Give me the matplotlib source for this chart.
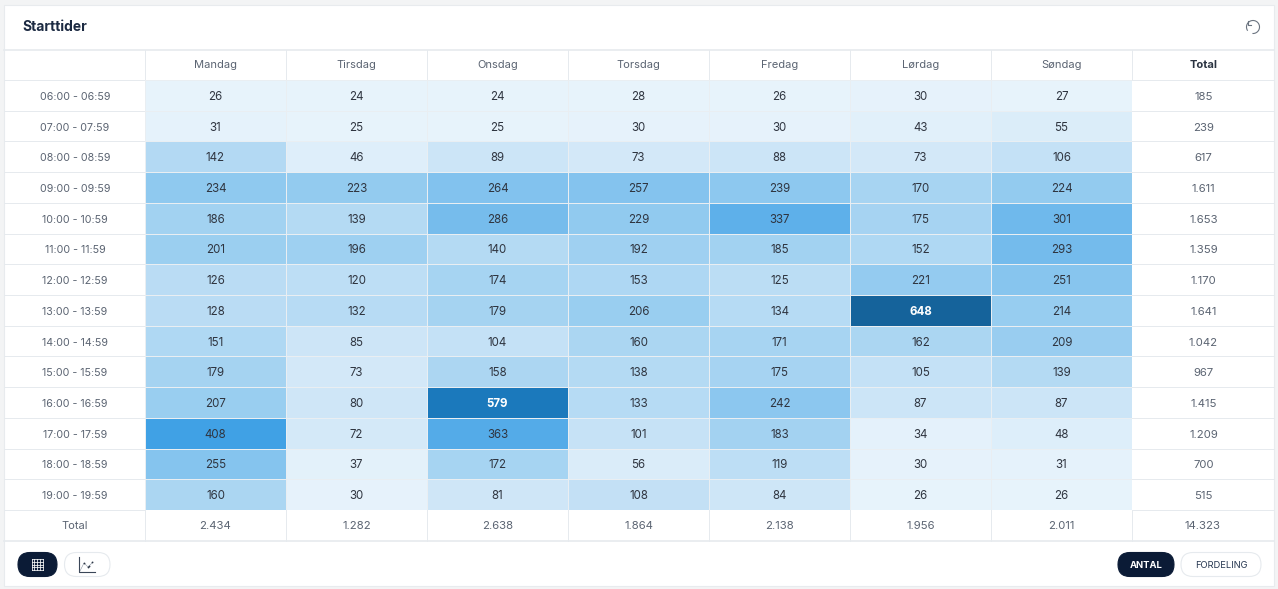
import numpy as np
import matplotlib
matplotlib.use("Agg")
import matplotlib.pyplot as plt
from matplotlib.colors import LinearSegmentedColormap, Normalize
from matplotlib.patches import FancyBboxPatch, Rectangle, Arc

plt.rcParams['font.family'] = ['Inter', 'DejaVu Sans']

days = ["Mandag", "Tirsdag", "Onsdag", "Torsdag", "Fredag", "Lørdag", "Søndag"]
hours = ["06:00 - 06:59", "07:00 - 07:59", "08:00 - 08:59", "09:00 - 09:59", "10:00 - 10:59",
         "11:00 - 11:59", "12:00 - 12:59", "13:00 - 13:59", "14:00 - 14:59", "15:00 - 15:59",
         "16:00 - 16:59", "17:00 - 17:59", "18:00 - 18:59", "19:00 - 19:59"]
values = np.array([
    [26, 24, 24, 28, 26, 30, 27],
    [31, 25, 25, 30, 30, 43, 55],
    [142, 46, 89, 73, 88, 73, 106],
    [234, 223, 264, 257, 239, 170, 224],
    [186, 139, 286, 229, 337, 175, 301],
    [201, 196, 140, 192, 185, 152, 293],
    [126, 120, 174, 153, 125, 221, 251],
    [128, 132, 179, 206, 134, 648, 214],
    [151, 85, 104, 160, 171, 162, 209],
    [179, 73, 158, 138, 175, 105, 139],
    [207, 80, 579, 133, 242, 87, 87],
    [408, 72, 363, 101, 183, 34, 48],
    [255, 37, 172, 56, 119, 30, 31],
    [160, 30, 81, 108, 84, 26, 26],
])
row_totals = ["185", "239", "617", "1.611", "1.653", "1.359", "1.170", "1.641", "1.042", "967",
              "1.415", "1.209", "700", "515"]
col_totals = ["2.434", "1.282", "2.638", "1.864", "2.138", "1.956", "2.011", "14.323"]

W, H = 1278, 589
navy = "#0b1b36"
text_col = "#3f4652"
grey_text = "#5b6472"
line_col = "#e6eaee"

# colours
nodes = [(26, "#e7f3fb"), (85, "#cde5f7"), (142, "#b2d9f3"), (234, "#8fc9ef"), (337, "#5fb0ea"),
         (408, "#40a1e5"), (579, "#1b79bc"), (648, "#15639b")]
norm = Normalize(26, 648)
cmap = LinearSegmentedColormap.from_list("blues", [(norm(v), c) for v, c in nodes])

fig = plt.figure(figsize=(W / 100, H / 100), dpi=100, facecolor="#f3f4f5")

# whole figure in pixels, y down
bg = fig.add_axes([0, 0, 1, 1])
bg.set_xlim(0, W)
bg.set_ylim(H, 0)
bg.axis("off")
bg.add_patch(Rectangle((3.5, 4.5), 1270, 581, fc="white", ec="#e8ebee", lw=0.8))

left, right = 145, 1132
top, bottom = 80, 510
ax = fig.add_axes([left / W, 1 - bottom / H, (right - left) / W, (bottom - top) / H])
ax.pcolormesh(values, cmap=cmap, norm=norm, edgecolors="#e9eef2", linewidth=0.45)
ax.set_xlim(0, 7)
ax.set_ylim(14, 0)
ax.axis("off")
for r in range(values.shape[0]):
    for c in range(values.shape[1]):
        v = values[r, c]
        big = v > 500
        ax.text(c + 0.5, r + 0.5, str(v), ha="center", va="center_baseline", fontsize=8.3,
                color="white" if big else "#2f3540", fontweight="bold" if big else "normal")

col_w = (right - left) / 7
row_h = (bottom - top) / 14
edges_x = [left + i * col_w for i in range(8)]
edges_y = [top + i * row_h for i in range(15)]

# table lines outside the heat cells
bg.plot([4, 1274], [49.5, 49.5], color=line_col, lw=1.2)
bg.plot([4, 1274], [540.5, 540.5], color=line_col, lw=1.2)
for x in edges_x:
    bg.plot([x, x], [50, top], color=line_col, lw=0.72)
    bg.plot([x, x], [bottom, 541], color=line_col, lw=0.72)
for y in edges_y:
    bg.plot([4, left], [y, y], color=line_col, lw=0.72)
    bg.plot([right, 1274], [y, y], color=line_col, lw=0.72)

bg.text(22, 27, "Starttider", fontsize=10, fontweight="bold", color="#1c2a42", va="center")

for i, d in enumerate(days):
    bg.text(left + (i + 0.5) * col_w, 64.5, d, ha="center", va="center_baseline", fontsize=8.0, color=grey_text)
bg.text(1203.5, 64.5, "Total", ha="center", va="center_baseline", fontsize=8.0, fontweight="bold", color="#2b3442")

for i, h in enumerate(hours):
    y = top + (i + 0.5) * row_h
    bg.text(75, y + 0.5, h, ha="center", va="center_baseline", fontsize=7.7, color=grey_text)
    bg.text(1203.5, y + 0.5, row_totals[i], ha="center", va="center_baseline", fontsize=8.2, color=grey_text)

bg.text(75, 525, "Total", ha="center", va="center_baseline", fontsize=8.0, color=grey_text)
for i, t in enumerate(col_totals):
    bg.text(left + (i + 0.5) * col_w, 525, t, ha="center", va="center_baseline", fontsize=8.2, color=grey_text)


def pill(x0, x1, filled):
    h = 24
    y0 = 552.5
    bg.add_patch(FancyBboxPatch((x0, y0), x1 - x0, h,
                                boxstyle=f"round,pad=0,rounding_size={h / 2}",
                                fc=navy if filled else "white",
                                ec=navy if filled else "#e6eaee", lw=0.8))


pill(18, 57, True)
pill(64.5, 110, False)
pill(1118, 1174, True)
pill(1181, 1261, False)

# grid icon
for x in np.linspace(31.5, 43, 5):
    bg.plot([x, x], [559, 570], color="white", lw=0.6, alpha=0.9)
for y in np.linspace(559, 570, 5):
    bg.plot([31.5, 43], [y, y], color="white", lw=0.6, alpha=0.9)

# scatter icon
bg.plot([79, 79, 95], [557, 572, 572], color="#3a4658", lw=0.8)
bg.plot([80, 84, 88, 93], [571, 563, 567, 562], color="#8a93a0", lw=0.4)
bg.plot([84, 88, 92, 89], [563, 567, 562, 566], ls="none", marker="o", ms=1.3, mew=0, color="#2c3646")

bg.text(1146, 564.5, "ANTAL", ha="center", va="center_baseline", fontsize=6.8, fontweight="bold", color="white")
bg.text(1221, 564.5, "FORDELING", ha="center", va="center_baseline", fontsize=6.7, color="#24354f")

# reset icon
bg.add_patch(Arc((1253, 27), 13, 13, theta1=-215, theta2=95, color="#6b7480", lw=0.8))
bg.plot([1247.5, 1247.5, 1251], [20.5, 24.5, 24.5], color="#6b7480", lw=0.8)

fig.savefig("out.png", dpi=100, facecolor=fig.get_facecolor())
